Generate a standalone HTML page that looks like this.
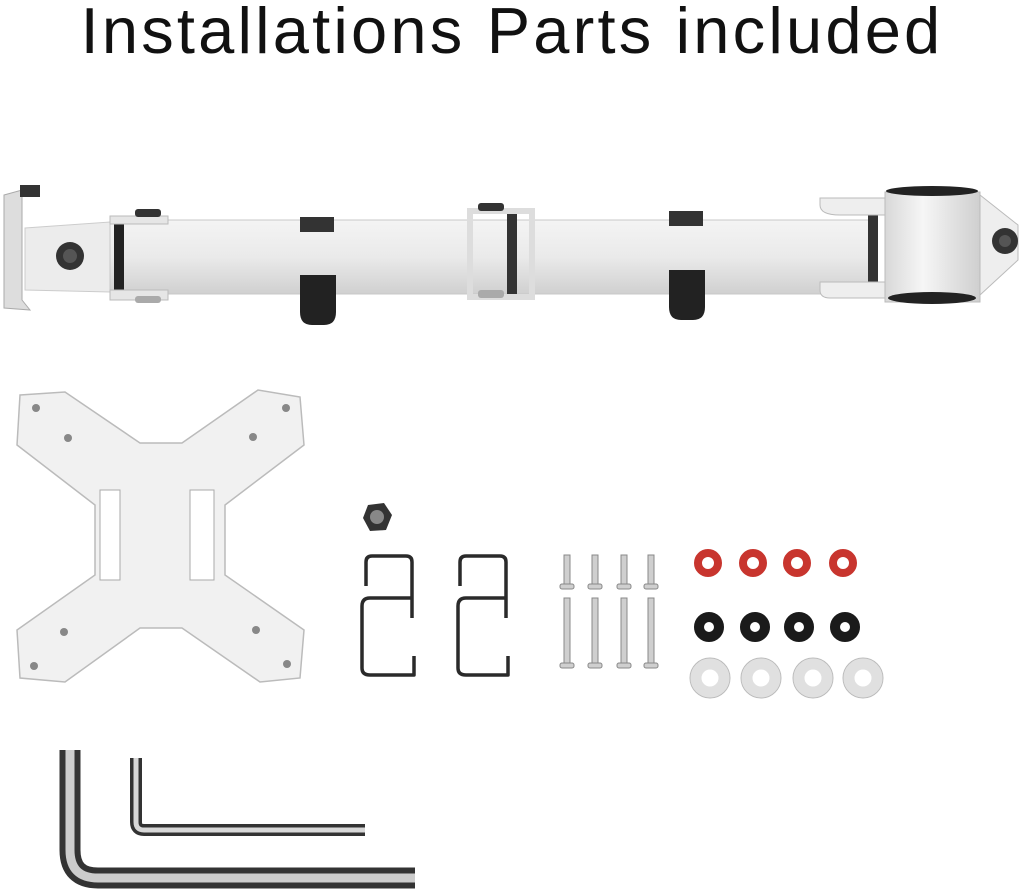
<!DOCTYPE html>
<html><head><meta charset="utf-8"><style>
html,body{margin:0;padding:0;background:#fff;width:1024px;height:892px;overflow:hidden}
.t{position:absolute;left:0;width:1024px;top:-7px;text-align:center;font-family:"Liberation Sans",sans-serif;font-size:65px;line-height:75px;color:#111;letter-spacing:3.2px;white-space:nowrap}
svg{position:absolute;left:0;top:0}
</style></head><body>
<div class="t">Installations Parts included</div>
<svg width="1024" height="892" viewBox="0 0 1024 892">
<defs>
<linearGradient id="bar" x1="0" y1="0" x2="0" y2="1"><stop offset="0" stop-color="#f4f4f4"/><stop offset="0.5" stop-color="#eaeaea"/><stop offset="1" stop-color="#d0d0d0"/></linearGradient>
<linearGradient id="cyl" x1="0" y1="0" x2="1" y2="0"><stop offset="0" stop-color="#d8d8d8"/><stop offset="0.4" stop-color="#f6f6f6"/><stop offset="1" stop-color="#cfcfcf"/></linearGradient>
</defs>
<!-- arm -->
<path d="M4,195 L22,190 L22,300 L30,310 L4,308 Z" fill="#ddd" stroke="#aaa"/>
<rect x="20" y="185" width="20" height="12" fill="#333"/>
<path d="M25,228 L110,222 L110,292 L25,290 Z" fill="#ececec" stroke="#ccc"/>
<circle cx="70" cy="256" r="14" fill="#333"/><circle cx="70" cy="256" r="7" fill="#555"/>
<rect x="110" y="220" width="760" height="74" fill="url(#bar)" stroke="#c8c8c8"/>
<rect x="114" y="218" width="10" height="80" fill="#222"/>
<path d="M110,216 H168 V224 H110Z M110,290 H168 V300 H110Z" fill="#e6e6e6" stroke="#bbb"/>
<rect x="135" y="209" width="26" height="8" rx="3" fill="#333"/>
<rect x="135" y="296" width="26" height="7" rx="3" fill="#aaa"/>
<rect x="470" y="211" width="62" height="86" fill="none" stroke="#ddd" stroke-width="6"/>
<rect x="507" y="214" width="10" height="80" fill="#333"/>
<rect x="478" y="203" width="26" height="8" rx="3" fill="#333"/>
<rect x="478" y="290" width="26" height="8" rx="3" fill="#aaa"/>
<rect x="300" y="217" width="34" height="15" fill="#333"/>
<path d="M300,275 H336 V312 Q336,325 324,325 H312 Q300,325 300,312Z" fill="#222"/>
<rect x="669" y="211" width="34" height="15" fill="#333"/>
<path d="M669,270 H705 V307 Q705,320 693,320 H681 Q669,320 669,307Z" fill="#222"/>
<rect x="868" y="214" width="10" height="82" fill="#333"/>
<path d="M820,198 H895 V215 H840 Q820,215 820,205Z M820,282 H895 V298 H830 Q820,298 820,290Z" fill="#eee" stroke="#bbb"/>
<rect x="885" y="192" width="95" height="110" fill="url(#cyl)" stroke="#bbb"/>
<ellipse cx="932" cy="191" rx="46" ry="5" fill="#222"/>
<ellipse cx="932" cy="298" rx="44" ry="6" fill="#222"/>
<path d="M980,195 L1018,225 L1018,260 L980,295Z" fill="#eee" stroke="#bbb"/>
<circle cx="1005" cy="241" r="13" fill="#333"/><circle cx="1005" cy="241" r="6" fill="#555"/>
<!-- VESA plate -->
<polygon points="20,395 65,392 140,443 182,443 258,390 300,397 304,445 225,505 225,575 304,630 300,678 260,682 182,628 140,628 65,682 20,678 17,630 95,575 95,505 17,445" fill="#f1f1f1" stroke="#bbb" stroke-width="1.5"/>
<rect x="100" y="490" width="20" height="90" fill="#fff" stroke="#aaa"/>
<rect x="190" y="490" width="24" height="90" fill="#fff" stroke="#aaa"/>
<g fill="#888"><circle cx="36" cy="408" r="4"/><circle cx="286" cy="408" r="4"/><circle cx="68" cy="438" r="4"/><circle cx="253" cy="437" r="4"/><circle cx="64" cy="632" r="4"/><circle cx="256" cy="630" r="4"/><circle cx="34" cy="666" r="4"/><circle cx="287" cy="664" r="4"/></g>
<!-- nut -->
<polygon points="368,505 384,503 392,515 386,530 370,531 363,518" fill="#333"/><circle cx="377" cy="517" r="7" fill="#888"/>
<!-- hooks -->
<g fill="none" stroke="#2a2a2a" stroke-width="3.5" stroke-linejoin="round">
<path d="M412,618 V562 Q412,556 406,556 H372 Q366,556 366,562 V586"/>
<path d="M412,598 H370 Q362,598 362,606 V668 Q362,675 370,675 H414 V656"/>
<path d="M506,618 V562 Q506,556 500,556 H466 Q460,556 460,562 V586"/>
<path d="M506,598 H466 Q458,598 458,606 V668 Q458,675 466,675 H508 V656"/>
</g>
<!-- screws -->
<g fill="#cfcfcf" stroke="#888" stroke-width="1">
<rect x="564" y="555" width="6" height="30"/><rect x="592" y="555" width="6" height="30"/><rect x="621" y="555" width="6" height="30"/><rect x="648" y="555" width="6" height="30"/>
<rect x="560" y="584" width="14" height="5" rx="2"/><rect x="588" y="584" width="14" height="5" rx="2"/><rect x="617" y="584" width="14" height="5" rx="2"/><rect x="644" y="584" width="14" height="5" rx="2"/>
<rect x="564" y="598" width="6" height="66"/><rect x="592" y="598" width="6" height="66"/><rect x="621" y="598" width="6" height="66"/><rect x="648" y="598" width="6" height="66"/>
<rect x="560" y="663" width="14" height="5" rx="2"/><rect x="588" y="663" width="14" height="5" rx="2"/><rect x="617" y="663" width="14" height="5" rx="2"/><rect x="644" y="663" width="14" height="5" rx="2"/>
</g>
<!-- rings -->
<g fill="none" stroke="#c8352e" stroke-width="8"><circle cx="708" cy="563" r="10"/><circle cx="753" cy="563" r="10"/><circle cx="797" cy="563" r="10"/><circle cx="843" cy="563" r="10"/></g>
<g fill="none" stroke="#1a1a1a" stroke-width="10"><circle cx="709" cy="627" r="10"/><circle cx="755" cy="627" r="10"/><circle cx="799" cy="627" r="10"/><circle cx="845" cy="627" r="10"/></g>
<g fill="none" stroke="#e0e0e0" stroke-width="11"><circle cx="710" cy="678" r="14"/><circle cx="761" cy="678" r="14"/><circle cx="813" cy="678" r="14"/><circle cx="863" cy="678" r="14"/></g>
<g fill="none" stroke="#bbb" stroke-width="1"><circle cx="710" cy="678" r="20"/><circle cx="761" cy="678" r="20"/><circle cx="813" cy="678" r="20"/><circle cx="863" cy="678" r="20"/></g>
<!-- hex keys -->
<path d="M70,750 V850 Q70,878 98,878 H415" fill="none" stroke="#333" stroke-width="21"/>
<path d="M70,750 V850 Q70,878 98,878 H415" fill="none" stroke="#ccc" stroke-width="9"/>
<path d="M136,758 V822 Q136,830 144,830 H365" fill="none" stroke="#333" stroke-width="12"/>
<path d="M136,758 V822 Q136,830 144,830 H365" fill="none" stroke="#d8d8d8" stroke-width="5"/>
</svg>
</body></html>
